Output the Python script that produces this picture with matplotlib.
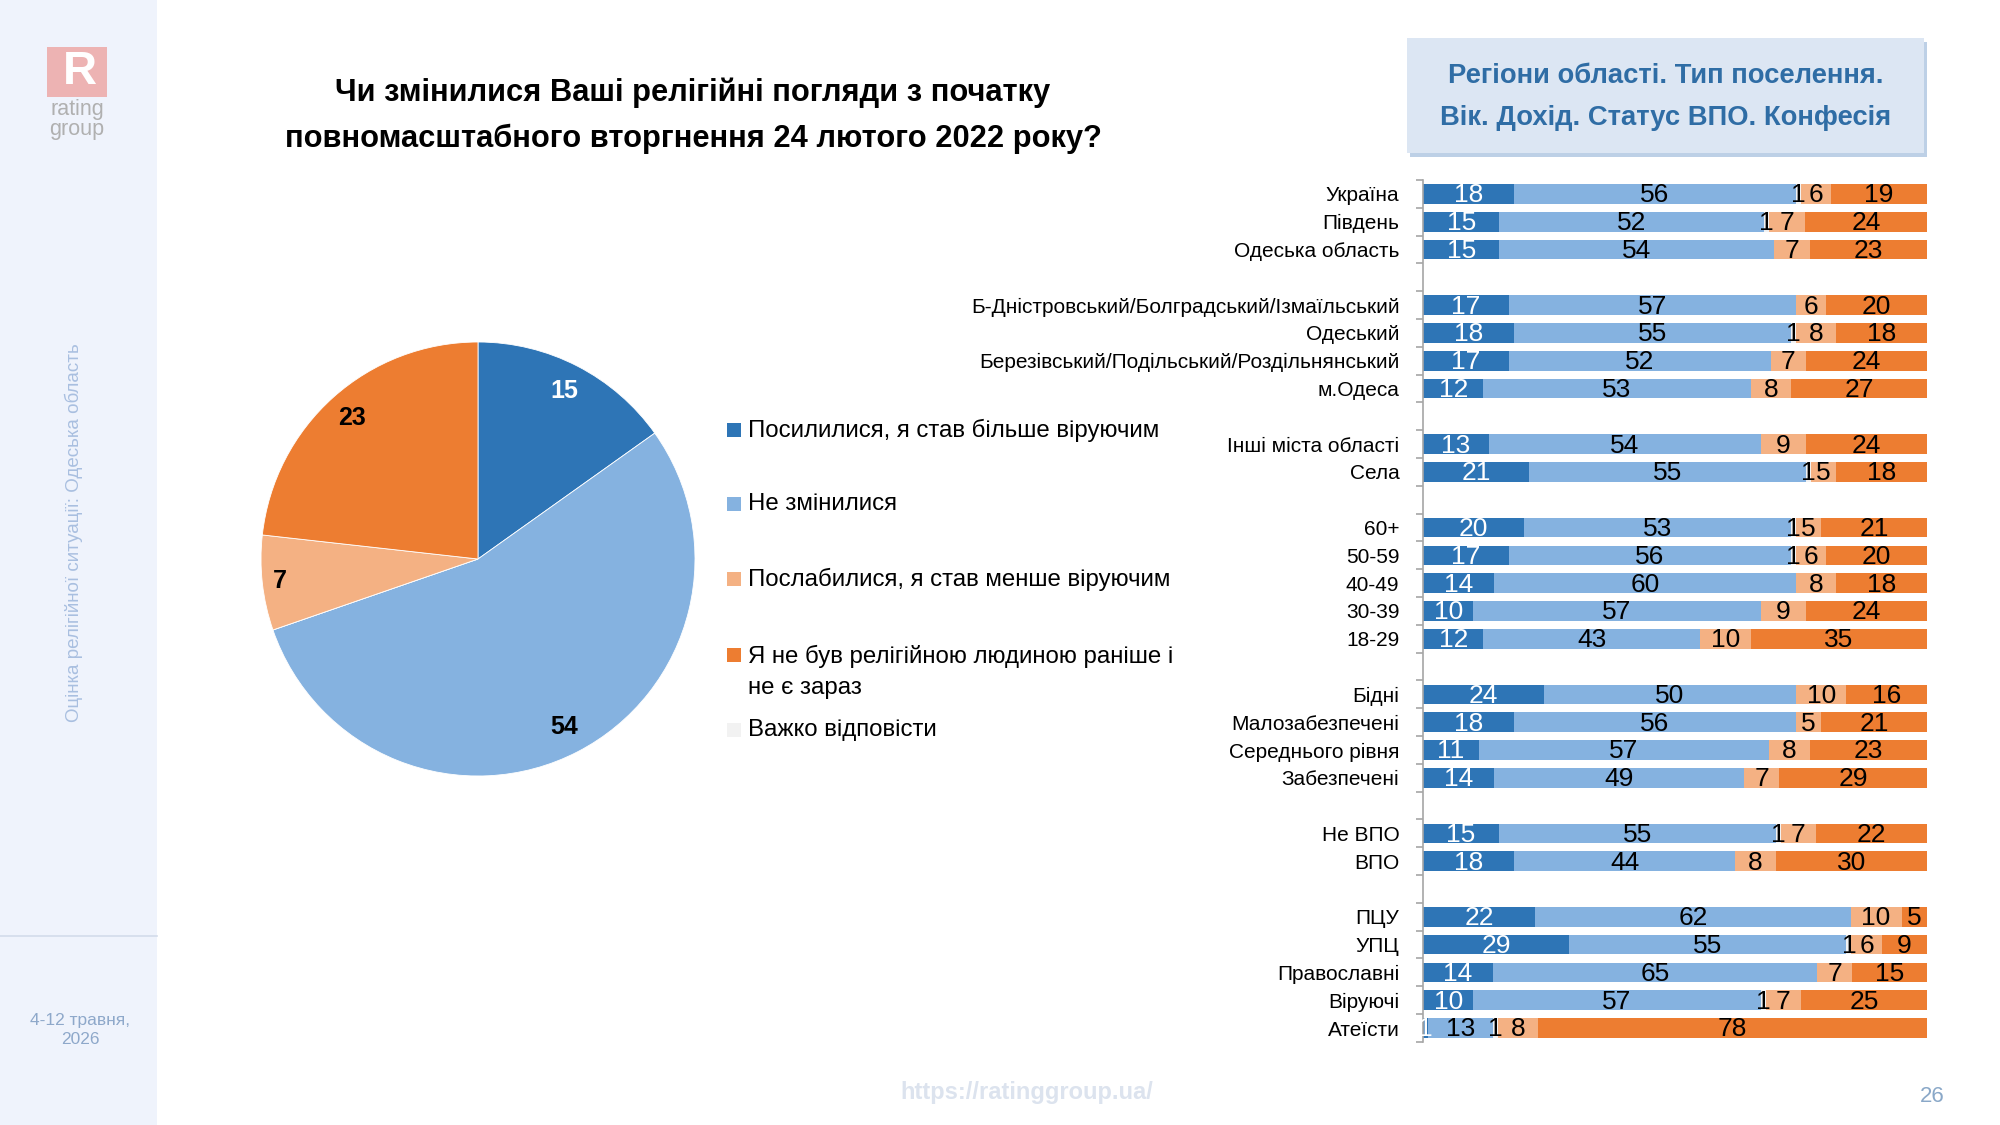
import matplotlib
matplotlib.use("Agg")
import matplotlib.pyplot as plt
from matplotlib.patches import Rectangle
import numpy as np

NARROW = ['Liberation Sans Narrow', 'Liberation Sans', 'DejaVu Sans']
REG = ['Liberation Sans', 'DejaVu Sans']

# ---------------- data ----------------
title = "Чи змінилися Ваші релігійні погляди з початку\nповномасштабного вторгнення 24 лютого 2022 року?"
header = "Регіони області. Тип поселення.\nВік. Дохід. Статус ВПО. Конфесія"
series_names = ["Посилилися, я став більше віруючим",
                "Не змінилися",
                "Важко відповісти",
                "Послабилися, я став менше віруючим",
                "Я не був релігійною людиною раніше і\nне є зараз"]
legend_order = [0, 1, 3, 4, 2]

group_regions = ["Україна", "Південь", "Одеська область"]
group_districts = ["Б-Дністровський/Болградський/Ізмаїльський", "Одеський",
                   "Березівський/Подільський/Роздільнянський", "м.Одеса"]
group_settlement = ["Інші міста області", "Села"]
group_age = ["60+", "50-59", "40-49", "30-39", "18-29"]
group_income = ["Бідні", "Малозабезпечені", "Середнього рівня", "Забезпечені"]
group_idp = ["Не ВПО", "ВПО"]
group_conf = ["ПЦУ", "УПЦ", "Православні", "Віруючі", "Атеїсти"]
groups = [group_regions, group_districts, group_settlement, group_age,
          group_income, group_idp, group_conf]

stronger = [18, 15, 15, 17, 18, 17, 12, 13, 21, 20, 17, 14, 10, 12,
            24, 18, 11, 14, 15, 18, 22, 29, 14, 10, 1]
unchanged = [56, 52, 54, 57, 55, 52, 53, 54, 55, 53, 56, 60, 57, 43,
             50, 56, 57, 49, 55, 44, 62, 55, 65, 57, 13]
hard = [1, 1, 0, 0, 1, 0, 0, 0, 1, 1, 1, 0, 0, 0,
        0, 0, 0, 0, 1, 0, 0, 1, 0, 1, 1]
weaker = [6, 7, 7, 6, 8, 7, 8, 9, 5, 5, 6, 8, 9, 10,
          10, 5, 8, 7, 7, 8, 10, 6, 7, 7, 8]
nonrel = [19, 24, 23, 20, 18, 24, 27, 24, 18, 21, 20, 18, 24, 35,
          16, 21, 23, 29, 22, 30, 5, 9, 15, 25, 78]

pie_row = "Одеська область"

colors = ["#2E75B6", "#85B2E0", "#F2F2F2", "#F4B183", "#ED7D31"]
label_colors = ["white", "black", "black", "black", "black"]

# ---------------- figure ----------------
W, H = 2000, 1125
fig = plt.figure(figsize=(20, 11.25), dpi=100)
fig.patch.set_facecolor("white")

def fx(px):
    return px / W

def fy(py):
    return 1 - py / H

# sidebar
fig.add_artist(Rectangle((0, 0), fx(157), 1, transform=fig.transFigure,
                         facecolor="#EFF3FC", edgecolor="none", zorder=0))
fig.add_artist(plt.Line2D([0, fx(157)], [fy(936), fy(936)], transform=fig.transFigure,
                          color="#D3DCEA", lw=1.2))
# logo
fig.add_artist(Rectangle((fx(47), fy(97)), fx(60), 50 / H, transform=fig.transFigure,
                         facecolor="#EDB3B3", edgecolor="none"))
fig.text(fx(80), fy(72), "R", ha="center", va="center", fontsize=34,
         fontweight="bold", color="white", family=REG)
fig.text(fx(77), fy(110), "rating", ha="center", va="center", fontsize=15.5,
         color="#B0B0B0", family=REG)
fig.text(fx(77), fy(130), "group", ha="center", va="center", fontsize=15.5,
         color="#B0B0B0", family=REG)
fig.text(fx(74), fy(533), "Оцінка релігійної ситуації: Одеська область", rotation=90,
         ha="center", va="center", fontsize=13.5, color="#A9BFE0", family=REG)
fig.text(fx(80), fy(1030), "4-12 травня,\n2026", ha="center", va="center",
         fontsize=12.5, color="#8EA8CA", family=REG, linespacing=1.3)

# footer
fig.text(fx(1027), fy(1092), "https://ratinggroup.ua/", ha="center", va="center",
         fontsize=17, fontweight="bold", color="#DCE3EE", family=NARROW)
fig.text(fx(1932), fy(1097), "26", ha="center", va="center",
         fontsize=16, color="#8AA8C8", family=NARROW)

# title
fig.text(fx(693), fy(116), title, ha="center", va="center", fontsize=22.2,
         fontweight="bold", color="black", family=NARROW, linespacing=1.68)

# header box
fig.add_artist(Rectangle((fx(1410), fy(157)), fx(1927) - fx(1410), 115 / H,
                         transform=fig.transFigure, facecolor="#BDD0E6",
                         edgecolor="none", zorder=1))
fig.add_artist(Rectangle((fx(1407), fy(153)), fx(1924) - fx(1407), 115 / H,
                         transform=fig.transFigure, facecolor="#DCE6F3",
                         edgecolor="none", zorder=2))
fig.text(fx(1666), fy(97), header, ha="center", va="center", fontsize=19.7,
         fontweight="bold", color="#2F6DA5", family=NARROW, linespacing=1.82, zorder=3)

# ---------------- pie ----------------
cats = [c for g in groups for c in g]
series = [stronger, unchanged, hard, weaker, nonrel]
pi = cats.index(pie_row)
pie_vals = [s[pi] for s in series]

cx, cy, r = 478, 559, 217
pax = fig.add_axes([fx(cx - r), fy(cy + r), 2 * r / W, 2 * r / H])
wedges, _ = pax.pie(pie_vals, colors=colors, startangle=90, counterclock=False,
                    radius=1, wedgeprops=dict(linewidth=0.6, edgecolor="#FFFFFF"))
for w, v, lc in zip(wedges, pie_vals, label_colors):
    if v <= 0:
        continue
    ang = np.deg2rad((w.theta1 + w.theta2) / 2)
    d = 0.87 if v > 8 else 0.92
    pax.text(d * np.cos(ang), d * np.sin(ang), str(v), ha="center", va="center",
             fontsize=18, fontweight="bold", color=lc, family=NARROW)
pax.set_xlim(-1, 1)
pax.set_ylim(-1, 1)
pax.set_aspect("equal")
pax.axis("off")

# legend (manual)
leg_y = [430, 504, 579, 672, 730]
for k, idx in enumerate(legend_order):
    y = leg_y[k]
    my = 655 if k == 3 else y
    fig.add_artist(Rectangle((fx(727), fy(my + 7)), 14 / W, 14 / H,
                             transform=fig.transFigure, facecolor=colors[idx],
                             edgecolor="none"))
    fig.text(fx(748), fy(y), series_names[idx], ha="left", va="center",
             fontsize=17.3, color="black", family=NARROW, linespacing=1.55)

# ---------------- stacked bars ----------------
positions = []
p = 0
for g in groups:
    for c in g:
        positions.append(p)
        p += 1
    p += 1
nslots = p - 1

top_px, step = 194, 27.8
y0_px = top_px - step / 2
y1_px = top_px + step * (nslots - 1) + step / 2
bax = fig.add_axes([fx(1423), fy(y1_px), fx(1927) - fx(1423), (y1_px - y0_px) / H])

vals = np.array(series, dtype=float)  # shape (5, n)
totals = vals.sum(axis=0)
widths = vals / totals * 100
left = np.zeros(len(cats))
for si in range(5):
    bax.barh(positions, widths[si], left=left, height=0.7, color=colors[si],
             edgecolor="none")
    for j, pos in enumerate(positions):
        v = series[si][j]
        if v > 0:
            bax.text(left[j] + widths[si][j] / 2, pos + 0.05, str(v), ha="center",
                     va="center", fontsize=19, color=label_colors[si], family=NARROW)
    left += widths[si]

bax.set_xlim(0, 100)
bax.set_ylim(nslots - 0.5, -0.5)
bax.set_yticks(positions)
bax.set_yticklabels(cats, fontsize=15, family=NARROW)
bax.set_yticks(np.arange(-0.5, nslots, 1.0), minor=True)
bax.tick_params(axis="y", which="major", length=0, pad=17)
bax.tick_params(axis="y", which="minor", length=5, color="#A6A6A6", width=1.2)
bax.set_xticks([])
for s in ["top", "right", "bottom"]:
    bax.spines[s].set_visible(False)
bax.spines["left"].set_color("#A6A6A6")
bax.spines["left"].set_linewidth(1.2)
bax.patch.set_alpha(0)

fig.savefig("out.png", dpi=100, facecolor="white")
